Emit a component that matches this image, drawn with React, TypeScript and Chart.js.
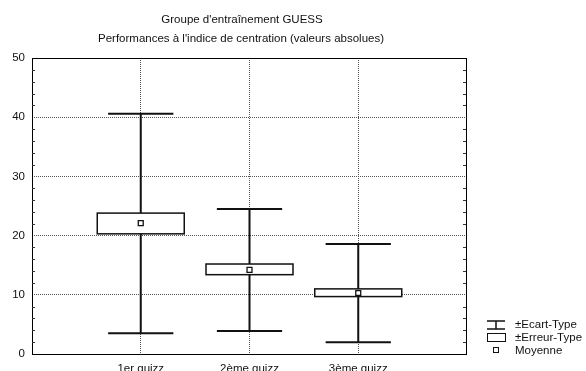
import React, { useEffect, useRef } from "react";
import { Chart, registerables } from "chart.js";

Chart.register(...registerables);

const categories = ["1er quizz", "2ème quizz", "3ème quizz"];
const means = [22.1, 14.2, 10.3];
const seLow = [20.3, 13.4, 9.7];
const seHigh = [23.8, 15.2, 11.0];
const sdLow = [3.5, 3.9, 2.0];
const sdHigh = [40.6, 24.5, 18.6];
const yTicks = [0, 10, 20, 30, 40, 50];
const titleLines = ["Groupe d'entraînement GUESS", "Performances à l'indice de centration (valeurs absolues)"];
const legendLabels = ["±Ecart-Type", "±Erreur-Type", "Moyenne"];

const FONT = "'Liberation Sans', Arial, sans-serif";
const FS = 11.5;

const boxPlugin = {
  id: "boxPlugin",
  beforeDatasetsDraw(chart: any) {
    const ctx = chart.ctx;
    const xs = chart.scales.x;
    const ys = chart.scales.y;
    ctx.save();
    categories.forEach((_, i) => {
      const xv = i + 1;
      const xc = xs.getPixelForValue(xv);
      const capL = xs.getPixelForValue(xv - 0.3);
      const capR = xs.getPixelForValue(xv + 0.3);
      const boxL = xs.getPixelForValue(xv - 0.4);
      const boxR = xs.getPixelForValue(xv + 0.4);
      const yHi = ys.getPixelForValue(sdHigh[i]);
      const yLo = ys.getPixelForValue(sdLow[i]);
      ctx.strokeStyle = "#111";
      ctx.lineWidth = 2;
      ctx.beginPath();
      ctx.moveTo(xc, yHi);
      ctx.lineTo(xc, yLo);
      ctx.moveTo(capL, yHi);
      ctx.lineTo(capR, yHi);
      ctx.moveTo(capL, yLo);
      ctx.lineTo(capR, yLo);
      ctx.stroke();
      const bt = ys.getPixelForValue(seHigh[i]);
      const bb = ys.getPixelForValue(seLow[i]);
      ctx.fillStyle = "#fff";
      ctx.fillRect(boxL, bt, boxR - boxL, bb - bt);
      ctx.lineWidth = 1.5;
      ctx.strokeRect(boxL, bt, boxR - boxL, bb - bt);
    });
    ctx.restore();
  },
  afterDraw(chart: any) {
    const ctx = chart.ctx;
    const a = chart.chartArea;
    const ys = chart.scales.y;
    ctx.save();
    ctx.strokeStyle = "#000";
    ctx.lineWidth = 1;
    ctx.strokeRect(Math.round(a.left) + 0.5, Math.round(a.top) + 0.5, Math.round(a.right - a.left) - 1, Math.round(a.bottom - a.top));
    ctx.strokeStyle = "#333";
    ctx.beginPath();
    for (let v = 2; v < 50; v += 2) {
      if (v % 10 === 0) continue;
      const y = Math.round(ys.getPixelForValue(v)) + 0.5;
      ctx.moveTo(a.left, y);
      ctx.lineTo(a.left + 3, y);
      ctx.moveTo(a.right - 1, y);
      ctx.lineTo(a.right - 4, y);
    }
    ctx.stroke();
    ctx.fillStyle = "#111";
    ctx.font = `${FS}px ${FONT}`;
    ctx.textAlign = "center";
    ctx.textBaseline = "middle";
    ctx.fillText(titleLines[0], 242, 20);
    ctx.fillText(titleLines[1], 241, 39);
    ctx.textAlign = "left";
    const lx = 487;
    const lw = 18;
    ctx.strokeStyle = "#111";
    ctx.lineWidth = 1.5;
    ctx.beginPath();
    ctx.moveTo(lx, 321);
    ctx.lineTo(lx + lw, 321);
    ctx.moveTo(lx, 329);
    ctx.lineTo(lx + lw, 329);
    ctx.moveTo(lx + lw / 2, 321);
    ctx.lineTo(lx + lw / 2, 329);
    ctx.stroke();
    ctx.lineWidth = 1;
    ctx.strokeRect(lx + 0.5, 333.5, lw, 8);
    ctx.strokeRect(lx + 6.5, 347.5, 5, 5);
    ctx.fillText(legendLabels[0], 515, 325);
    ctx.fillText(legendLabels[1], 515, 338);
    ctx.fillText(legendLabels[2], 515, 351);
    ctx.restore();
  },
};

export default function App() {
  const ref = useRef<HTMLCanvasElement>(null);
  useEffect(() => {
    document.body.style.margin = "0";
    const chart = new Chart(ref.current!, {
      type: "scatter",
      data: {
        datasets: [
          {
            data: means.map((m, i) => ({ x: i + 1, y: m })),
            pointStyle: "rect",
            pointRadius: 3.5,
            backgroundColor: "#fff",
            borderColor: "#111",
            borderWidth: 1.3,
          },
        ],
      },
      options: {
        animation: false,
        responsive: false,
        events: [],
        layout: { padding: { left: 0, right: 119, top: 58, bottom: 0 } },
        plugins: { legend: { display: false }, tooltip: { enabled: false }, title: { display: false } },
        scales: {
          x: {
            type: "linear",
            min: 0,
            max: 4,
            afterBuildTicks: (s: any) => {
              s.ticks = categories.map((_, i) => ({ value: i + 1 }));
            },
            afterFit: (s: any) => {
              s.height = 17;
            },
            ticks: {
              callback: (v: any) => categories[Number(v) - 1] ?? "",
              color: "#111",
              font: { family: FONT, size: FS },
              padding: 8,
              maxRotation: 0,
              autoSkip: false,
            },
            grid: { color: "#555", lineWidth: 1, drawTicks: false },
            border: { display: false, dash: [1, 1] },
          },
          y: {
            min: 0,
            max: 50,
            afterBuildTicks: (s: any) => {
              s.ticks = yTicks.map((v) => ({ value: v }));
            },
            afterFit: (s: any) => {
              s.width = 32;
            },
            ticks: {
              color: "#111",
              font: { family: FONT, size: FS },
              padding: 7,
            },
            grid: { color: "#555", lineWidth: 1, drawTicks: false },
            border: { display: false, dash: [1, 1] },
          },
        },
      },
      plugins: [boxPlugin],
    });
    return () => chart.destroy();
  }, []);
  return <canvas ref={ref} width={586} height={371} style={{ display: "block", width: 586, height: 371 }} />;
}
